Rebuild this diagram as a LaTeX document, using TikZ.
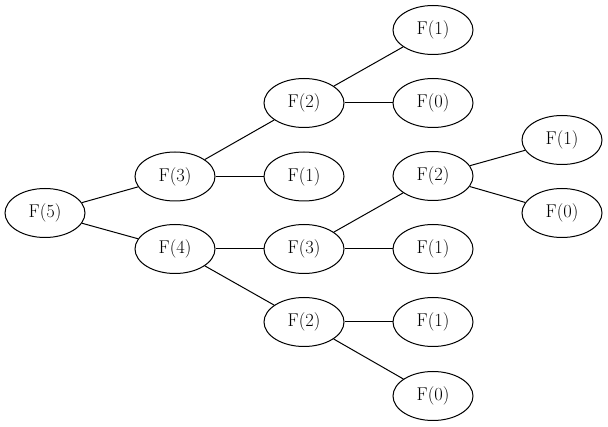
\documentclass[tikz,border=0pt]{standalone}
\usetikzlibrary{shapes.geometric}
\begin{document}
\begin{tikzpicture}[x=1pt,y=-1pt,
  fnode/.style={ellipse,draw,line width=1pt,minimum width=80pt,minimum height=49pt,inner sep=0pt,font=\fontsize{18.5}{20}\selectfont},
  edge/.style={line width=1pt}]
\useasboundingbox (0,0) rectangle (608,427);
% root and first level
\node[fnode] (f5) at (45,213) {F(5)};
\node[fnode] (f3a) at (175,176.5) {F(3)};
\node[fnode] (f4) at (175,249) {F(4)};
% second level
\node[fnode] (f2a) at (304,103) {F(2)};
\node[fnode] (f1a) at (304,176.5) {F(1)};
\node[fnode] (f3b) at (304,249) {F(3)};
\node[fnode] (f2b) at (304,322) {F(2)};
% third level
\node[fnode] (f1b) at (433,30) {F(1)};
\node[fnode] (f0a) at (433,103) {F(0)};
\node[fnode] (f2c) at (433,176) {F(2)};
\node[fnode] (f1c) at (433,249) {F(1)};
\node[fnode] (f1d) at (433,322) {F(1)};
\node[fnode] (f0b) at (433,396) {F(0)};
% fourth level
\node[fnode] (f1e) at (562,140) {F(1)};
\node[fnode] (f0c) at (562,213) {F(0)};
% edges
\draw[edge] (f5) -- (f3a);
\draw[edge] (f5) -- (f4);
\draw[edge] (f3a) -- (f2a);
\draw[edge] (f3a) -- (f1a);
\draw[edge] (f4) -- (f3b);
\draw[edge] (f4) -- (f2b);
\draw[edge] (f2a) -- (f1b);
\draw[edge] (f2a) -- (f0a);
\draw[edge] (f3b) -- (f2c);
\draw[edge] (f3b) -- (f1c);
\draw[edge] (f2b) -- (f1d);
\draw[edge] (f2b) -- (f0b);
\draw[edge] (f2c) -- (f1e);
\draw[edge] (f2c) -- (f0c);
\end{tikzpicture}
\end{document}
